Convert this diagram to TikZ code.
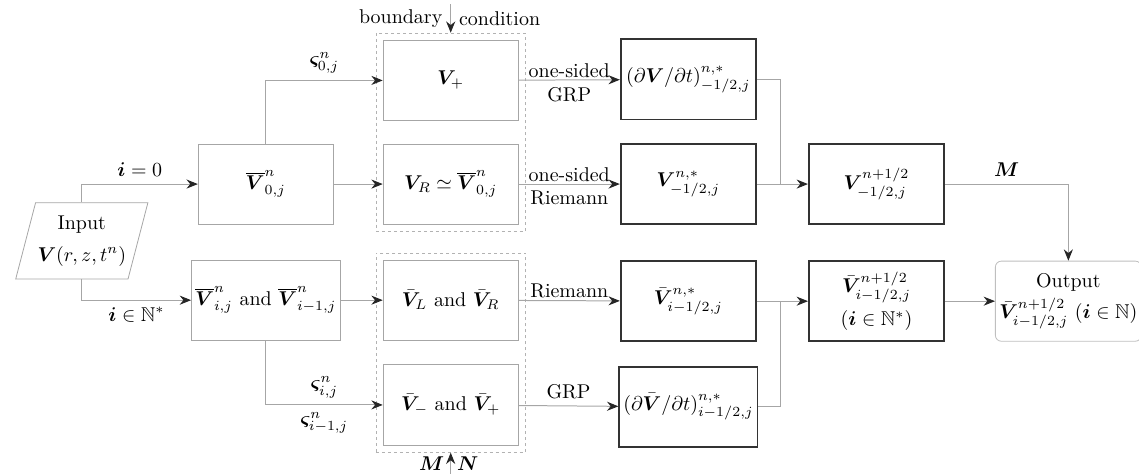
\documentclass[tikz,border=0pt]{standalone}
\usepackage{amsmath,amssymb,bm}
\usetikzlibrary{arrows.meta, positioning, shapes.geometric, fit}

\begin{document}
\begin{tikzpicture}[
  box/.style={draw=gray!70, rectangle, align=center, minimum width=2.38cm, minimum height=1.41cm, inner sep=2pt},
  thickbox/.style={box, draw=black!80, line width=0.9pt},
  outbox/.style={box, rounded corners=3pt, draw=gray!50, minimum width=2.57cm, inner xsep=1pt},
  inbox/.style={draw=gray!70, trapezium, trapezium left angle=70, trapezium right angle=110, trapezium stretches=true, minimum width=2.34cm, minimum height=1.34cm, align=center, inner sep=1pt},
  group/.style={draw=gray!60, dash pattern=on 1.5pt off 1.5pt, inner sep=0.12cm},
  line/.style={draw=gray!70, line width=0.5pt},
  arrow/.style={line, -{Stealth[length=2mm, width=1.6mm, black!85]}}
]
\useasboundingbox (0,0) rectangle (20.05,-8.34);

% Input
\node[inbox] (input) at (1.44,-4.24) {Input\\[4pt]$\boldsymbol{V}(r,z,t^n)$};

% Cell values
\node[box] (v0) at (4.68,-3.24) {$\overline{\boldsymbol{V}}^n_{0,j}$};
\node[box, below=0.62cm of v0] (vi) {$\overline{\boldsymbol{V}}^n_{i,j}$ and $\overline{\boldsymbol{V}}^n_{i-1,j}$};

% Left and right states
\node[box, right=0.86cm of v0] (vr) {$\boldsymbol{V}_R \simeq \overline{\boldsymbol{V}}^n_{0,j}$};
\node[box, above=0.4cm of vr] (vplus) {$\boldsymbol{V}_+$};
\node[box, below=0.62cm of vr] (vl) {$\bar{\boldsymbol{V}}_L$ and $\bar{\boldsymbol{V}}_R$};
\node[box, below=0.42cm of vl] (vminus) {$\bar{\boldsymbol{V}}_-$ and $\bar{\boldsymbol{V}}_+$};

\node[group, fit=(vplus)(vr)] (grpbnd) {};
\node[group, fit=(vl)(vminus)] (grpint) {};

% Solver results
\node[thickbox, right=1.78cm of vr] (vstar) {$\boldsymbol{V}^{n,*}_{-1/2,j}$};
\node[thickbox, above=0.4cm of vstar] (dv) {$(\partial \boldsymbol{V}/\partial t)^{n,*}_{-1/2,j}$};
\node[thickbox, below=0.62cm of vstar] (vistar) {$\bar{\boldsymbol{V}}^{n,*}_{i-1/2,j}$};
\node[thickbox, below=0.42cm of vistar] (dvbar) {$(\partial \bar{\boldsymbol{V}}/\partial t)^{n,*}_{i-1/2,j}$};

% Half step values
\node[thickbox, right=0.9cm of vstar] (vhalf) {$\boldsymbol{V}^{n+1/2}_{-1/2,j}$};
\node[thickbox, below=0.62cm of vhalf] (vihalf) {$\bar{\boldsymbol{V}}^{n+1/2}_{i-1/2,j}$\\[3pt]$(\boldsymbol{i}\in\mathbb{N}^*)$};

% Output
\node[outbox, right=0.88cm of vihalf] (output) {Output\\[2pt]$\bar{\boldsymbol{V}}^{n+1/2}_{i-1/2,j}$ $(\boldsymbol{i}\in\mathbb{N})$};

% Boundary and source inputs
\coordinate (bndtop) at ([yshift=0.5cm]grpbnd.north);
\draw[arrow] (bndtop) -- (grpbnd.north);
\node[anchor=east, inner sep=4pt] at ([yshift=-0.25cm]bndtop) {boundary};
\node[anchor=west, inner sep=4pt] at ([yshift=-0.25cm]bndtop) {condition};
\coordinate (srcbot) at ([yshift=-0.42cm]grpint.south);
\draw[arrow] (srcbot) -- (grpint.south);
\node[anchor=east, inner sep=3pt] at ([yshift=-0.19cm]grpint.south) {$\boldsymbol{M}$};
\node[anchor=west, inner sep=3pt] at ([yshift=-0.19cm]grpint.south) {$\boldsymbol{N}$};

% Arrows
\draw[arrow] (input.north) |- (v0) node[pos=0.75, above] {$\boldsymbol{i} = 0$};
\draw[arrow] (input.south) |- (vi) node[pos=0.75, below] {$\boldsymbol{i} \in \mathbb{N}^*$};
\draw[arrow] (v0.north) |- (vplus) node[pos=0.75, above] {$\boldsymbol{\varsigma}^n_{0,j}$};
\draw[arrow] (v0) -- (vr);
\draw[arrow] (vi) -- (vl);
\draw[arrow] (vi.south) |- (vminus)
  node[pos=0.75, above] {$\boldsymbol{\varsigma}^n_{i,j}$}
  node[pos=0.75, below] {$\boldsymbol{\varsigma}^n_{i-1,j}$};

\draw[arrow] (vplus) -- (dv) node[midway, above, inner sep=1pt] {one-sided} node[midway, below] {GRP};
\draw[arrow] (vr) -- (vstar) node[midway, above, inner sep=1pt] {one-sided} node[midway, below] {Riemann};
\draw[arrow] (vl) -- (vistar) node[midway, above, inner sep=1pt] {Riemann};
\draw[arrow] (vminus) -- (dvbar) node[midway, above] {GRP};

\coordinate (jnbnd) at ([xshift=0.42cm]vstar.east);
\coordinate (jnint) at ([xshift=0.42cm]vistar.east);
\draw[arrow] (vstar) -- (vhalf);
\draw[line] (dv.east) -| (jnbnd);
\draw[arrow] (vistar) -- (vihalf);
\draw[line] (dvbar.east) -| (jnint);

\draw[arrow] (vhalf.east) -| (output.north) node[pos=0.25, above] {$\boldsymbol{M}$};
\draw[arrow] (vihalf) -- (output);

\end{tikzpicture}
\end{document}
